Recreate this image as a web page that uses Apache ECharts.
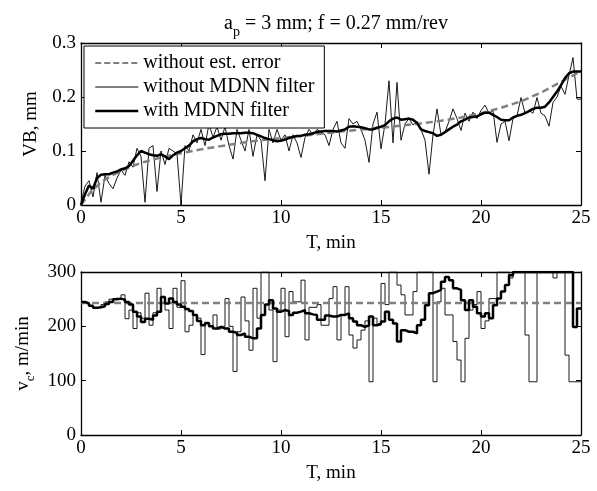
<!DOCTYPE html>
<html>
<head>
<meta charset="utf-8">
<script src="https://cdn.jsdelivr.net/npm/echarts@6/dist/echarts.min.js"></script>
<style>html,body{margin:0;padding:0;background:#fff;}#c{width:597px;height:491px;}</style>
</head>
<body>
<div id="c"></div>
<script>
// sampling step of the measurements (min)
const dt = 0.2;
// VB, mm – without MDNN filter (thin)
const vbRaw = [0.005,0.035,0.045,0.015,0.06,0.005,0.055,0.04,0.03,0.05,
0.065,0.055,0.08,0.07,0.105,0.09,0.005,0.105,0.11,0.025,
0.1,0.075,0.105,0.1,0.095,0.0,0.11,0.1,0.13,0.115,
0.14,0.11,0.15,0.125,0.145,0.12,0.145,0.11,0.085,0.14,
0.12,0.1,0.14,0.09,0.13,0.12,0.045,0.14,0.115,0.14,
0.12,0.13,0.1,0.13,0.115,0.088,0.125,0.14,0.13,0.14,
0.135,0.13,0.11,0.14,0.155,0.115,0.105,0.16,0.15,0.155,
0.14,0.12,0.079,0.15,0.172,0.104,0.15,0.23,0.115,0.227,
0.12,0.15,0.16,0.148,0.155,0.14,0.12,0.057,0.13,0.178,
0.13,0.135,0.155,0.178,0.16,0.138,0.17,0.155,0.172,0.16,
0.175,0.185,0.17,0.175,0.116,0.15,0.155,0.119,0.16,0.165,
0.199,0.17,0.175,0.17,0.199,0.17,0.165,0.146,0.19,0.2,
0.22,0.205,0.24,0.273,0.196,0.196];
// VB, mm – with MDNN filter (thick)
const vbFilt = [0.0,0.02,0.036,0.03,0.05,0.056,0.057,0.057,0.06,0.062,
0.066,0.068,0.072,0.082,0.092,0.1,0.097,0.094,0.092,0.091,
0.094,0.09,0.085,0.092,0.097,0.1,0.105,0.11,0.118,0.122,
0.124,0.122,0.121,0.125,0.128,0.131,0.132,0.132,0.133,0.133,
0.133,0.134,0.134,0.133,0.13,0.127,0.124,0.122,0.12,0.118,
0.119,0.121,0.124,0.126,0.128,0.128,0.13,0.131,0.133,0.135,
0.136,0.137,0.137,0.137,0.136,0.138,0.14,0.145,0.146,0.145,
0.144,0.142,0.14,0.14,0.143,0.145,0.148,0.155,0.16,0.162,
0.158,0.159,0.16,0.158,0.152,0.14,0.137,0.135,0.133,0.128,
0.13,0.135,0.14,0.145,0.149,0.155,0.158,0.162,0.163,0.164,
0.168,0.171,0.171,0.167,0.163,0.158,0.157,0.157,0.162,0.165,
0.167,0.17,0.174,0.178,0.18,0.18,0.182,0.19,0.2,0.21,
0.222,0.235,0.244,0.247,0.247,0.247];
// VB, mm – without estimation error (dashed)
const vbRefT = [0,0.5,1,1.5,2,2.5,3,4,5,6,7,8,9,10,11,12,13,14,15,16,17,18,19,20,21,22,23,24,24.5,25];
const vbRefV = [0,0.025,0.042,0.054,0.063,0.071,0.078,0.088,0.096,0.103,0.109,0.115,0.12,0.124,0.128,0.132,0.136,0.14,0.143,0.147,0.151,0.156,0.162,0.17,0.18,0.192,0.208,0.228,0.238,0.248];
// vc, m/min – without MDNN filter (thin)
const vcRaw = [245,243,238,234,236,240,245,250,252,250,
258,214,230,196,225,215,261,202,225,270,
242,230,196,270,235,284,190,202,220,215,
148,205,200,221,195,200,251,200,117,190,
254,210,156,270,215,300,300,230,135,230,
270,181,264,245,245,285,175,235,235,240,
202,202,251,273,175,220,273,184,160,175,
193,210,98,215,202,279,240,300,300,276,
258,221,221,264,300,300,300,300,98,245,
270,221,221,172,138,98,178,230,240,264,
196,210,251,251,300,300,300,289,300,300,
300,184,98,98,300,300,300,300,289,300,
300,147,98,98,98,98];
// vc, m/min – with MDNN filter (thick)
const vcFilt = [245,242,238,234,235,237,241,245,250,251,
249,245,240,227,218,208,214,212,220,227,
254,242,251,245,240,236,232,228,221,210,
202,206,200,196,199,196,196,190,188,184,
187,181,178,178,196,221,240,248,233,227,
230,228,221,225,227,230,224,222,221,212,
212,220,218,218,221,221,224,215,209,202,
199,202,218,202,205,209,227,212,205,172,
193,190,190,187,202,212,239,261,264,267,
282,291,285,270,267,248,230,248,236,224,
218,224,215,239,251,264,276,294,300,300,
300,300,300,300,300,300,300,300,300,300,
300,300,300,199,233,233];
// vc, m/min – reference (dashed)
const vcRefT = [0,25];
const vcRefV = [243,243];

function pairs(vals){ return vals.map((v,i)=>[+(i*dt).toFixed(2), v]); }
function pairs2(ts, vs){ return ts.map((t,i)=>[t, vs[i]]); }

const FONT = 'Liberation Serif';
const FS = 19;
const chart = echarts.init(document.getElementById('c'), null, {renderer:'canvas'});

function xAx(gi, show){
  return {type:'value', gridIndex:gi, min:0, max:25, interval:5, position: show?'bottom':'top',
    name: show?'T, min':'', nameLocation:'middle', nameGap:29,
    nameTextStyle:{fontFamily:FONT, fontSize:FS, color:'#000'},
    axisLine:{show:true, onZero:false, lineStyle:{color:'#000', width:1.3}},
    axisTick:{show:true, inside:true, length:5, lineStyle:{color:'#000'}},
    axisLabel:{show:show, fontFamily:FONT, fontSize:FS, color:'#000', margin:4},
    splitLine:{show:false}};
}
function yAx(gi, show, min, max, itv, name, fmt){
  return {type:'value', gridIndex:gi, min:min, max:max, interval:itv, position: show?'left':'right',
    name: show?name:'', nameLocation:'middle', nameGap:40, nameRotate:90,
    nameTextStyle:{fontFamily:FONT, fontSize:FS, color:'#000',
      rich:{a:{fontFamily:FONT, fontSize:FS, color:'#000', verticalAlign:'middle'},
            s:{fontFamily:FONT, fontSize:13, color:'#000', verticalAlign:'bottom', padding:[14,0,0,0]}}},
    axisLine:{show:true, onZero:false, lineStyle:{color:'#000', width:1.3}},
    axisTick:{show:true, inside:true, length:5, lineStyle:{color:'#000'}},
    axisLabel:{show:show, fontFamily:FONT, fontSize:FS, color:'#000', margin:5, formatter:fmt},
    splitLine:{show:false}};
}

const legendNames = ['without est. error','without MDNN filter','with MDNN filter'];

const option = {
  animation:false,
  backgroundColor:'#fff',
  title:{text:'{a|a}{s|p}{a| = 3 mm; f = 0.27 mm/rev}', left:331, textAlign:'center', top:4,
    textStyle:{fontWeight:'normal', rich:{a:{fontFamily:FONT, fontSize:20, fontWeight:'normal', color:'#000', verticalAlign:'middle'},
      s:{fontFamily:FONT, fontSize:14, fontWeight:'normal', color:'#000', verticalAlign:'bottom', padding:[16,0,0,0]}}}},
  grid:[{left:81, right:16, top:43, height:162},{left:81, right:16, top:272, height:163}],
  legend:{orient:'vertical',
    data:[
      {name:legendNames[0], itemStyle:{opacity:0}, lineStyle:{color:'#808080', width:2, type:[6,3]}},
      {name:legendNames[1], itemStyle:{opacity:0}, lineStyle:{color:'#000', width:1}},
      {name:legendNames[2], itemStyle:{opacity:0}, lineStyle:{color:'#000', width:2.5}}
    ],
    left:84, top:46, itemWidth:43, itemHeight:12, itemGap:4,
    backgroundColor:'#fff', borderColor:'#000', borderWidth:1, borderRadius:0, padding:[7,10,7,10],
    textStyle:{fontFamily:FONT, fontSize:20, color:'#000'}},
  xAxis:[xAx(0,true), xAx(0,false), xAx(1,true), xAx(1,false)],
  yAxis:[yAx(0,true,0,0.3,0.1,'VB, mm', v=>+v.toFixed(1)+''), yAx(0,false,0,0.3,0.1,'',v=>v),
         yAx(1,true,0,300,100,'{a|v}{s|c}{a|, m/min}', v=>v+''), yAx(1,false,0,300,100,'',v=>v)],
  series:[
    {name:legendNames[0], type:'line', xAxisIndex:0, yAxisIndex:0, data:pairs2(vbRefT, vbRefV), showSymbol:false, symbol:'none',
      lineStyle:{color:'#808080', width:2.5, type:[7,4]}, itemStyle:{color:'#808080'}, z:3},
    {name:legendNames[1], type:'line', xAxisIndex:0, yAxisIndex:0, data:pairs(vbRaw), showSymbol:false, symbol:'none',
      lineStyle:{color:'#000', width:0.9}, itemStyle:{color:'#000'}, z:2},
    {name:legendNames[2], type:'line', xAxisIndex:0, yAxisIndex:0, data:pairs(vbFilt), showSymbol:false, symbol:'none',
      lineStyle:{color:'#000', width:2.5}, itemStyle:{color:'#000'}, z:4},
    {name:legendNames[0], type:'line', xAxisIndex:2, yAxisIndex:2, data:pairs2(vcRefT, vcRefV), showSymbol:false, symbol:'none',
      lineStyle:{color:'#808080', width:2.5, type:[7,4]}, itemStyle:{color:'#808080'}, z:3},
    {name:legendNames[1], type:'line', step:'end', xAxisIndex:2, yAxisIndex:2, data:pairs(vcRaw), showSymbol:false, symbol:'none',
      lineStyle:{color:'#000', width:0.9}, itemStyle:{color:'#000'}, z:2},
    {name:legendNames[2], type:'line', step:'end', xAxisIndex:2, yAxisIndex:2, data:pairs(vcFilt), showSymbol:false, symbol:'none',
      lineStyle:{color:'#000', width:2.5}, itemStyle:{color:'#000'}, z:4}
  ]
};
chart.setOption(option);
</script>
</body>
</html>
